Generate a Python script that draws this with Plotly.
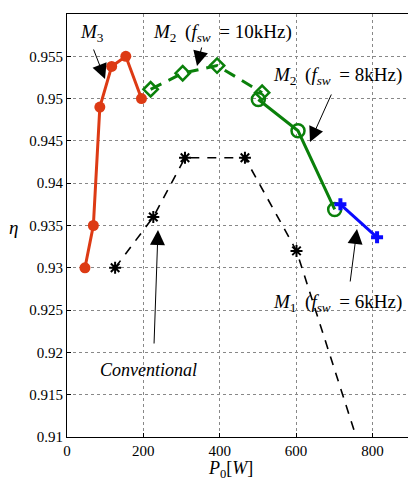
import plotly.graph_objects as go

# Data
m3_x = [47, 69, 86, 117, 154, 195]
m3_y = [0.930, 0.935, 0.949, 0.9538, 0.955, 0.950]

m2_10_x = [219, 303, 393, 511]
m2_10_y = [0.9511, 0.9530, 0.9539, 0.9507]

m2_8_x = [501, 605, 701]
m2_8_y = [0.9499, 0.9462, 0.9369]

m1_x = [716, 812]
m1_y = [0.9375, 0.9336]

conv_x = [126, 226, 309, 466, 601, 800]
conv_y = [0.930, 0.936, 0.943, 0.943, 0.932, 0.904]

y_ticks = [0.91, 0.915, 0.92, 0.925, 0.93, 0.935, 0.94, 0.945, 0.95, 0.955]
y_tick_labels = ["0.91", "0.915", "0.92", "0.925", "0.93", "0.935", "0.94",
                 "0.945", "0.95", "0.955"]
x_ticks = [0, 200, 400, 600, 800]

FONT = "Liberation Serif"
RED = "#dd3a14"
GREEN = "#0a800a"
BLUE = "#0a0aff"

fig = go.Figure()

fig.add_trace(go.Scatter(x=conv_x, y=conv_y, mode="lines",
                         line=dict(color="black", width=1.6, dash="9px,8px"),
                         showlegend=False))
fig.add_trace(go.Scatter(x=conv_x[:-1], y=conv_y[:-1], mode="markers",
                         marker=dict(symbol="asterisk-open", size=10, color="black",
                                     line=dict(width=2, color="black")),
                         showlegend=False))

fig.add_trace(go.Scatter(x=m3_x, y=m3_y, mode="lines+markers",
                         line=dict(color=RED, width=3),
                         marker=dict(symbol="circle", size=11, color=RED),
                         showlegend=False))

fig.add_trace(go.Scatter(x=m2_10_x, y=m2_10_y, mode="lines+markers",
                         line=dict(color=GREEN, width=3, dash="12px,8px"),
                         marker=dict(symbol="diamond-open", size=11, color=GREEN,
                                     line=dict(width=2.5, color=GREEN)),
                         showlegend=False))

fig.add_trace(go.Scatter(x=m2_8_x, y=m2_8_y, mode="lines+markers",
                         line=dict(color=GREEN, width=3),
                         marker=dict(symbol="circle-open", size=13, color=GREEN,
                                     line=dict(width=2.5, color=GREEN)),
                         showlegend=False))

fig.add_trace(go.Scatter(x=m1_x, y=m1_y, mode="lines+markers",
                         line=dict(color=BLUE, width=3),
                         marker=dict(symbol="cross", size=10, color=BLUE),
                         showlegend=False))

W, H = 408, 479
L, R, T, B = 67, 0, 14, 42
PW, PH = W - L - R, H - T - B


def px(xp, yp):
    return (xp - L) / PW, 1 - (yp - T) / PH


def add_arrow(tip, start):
    x, y = px(*tip)
    fig.add_annotation(x=x, y=y, xref="paper", yref="paper",
                       ax=start[0] - tip[0], ay=start[1] - tip[1],
                       text="", showarrow=True, arrowhead=2, arrowsize=3,
                       arrowwidth=1, arrowcolor="black")


def add_text(text, pos, size=19):
    x, y = px(*pos)
    fig.add_annotation(x=x, y=y, xref="paper", yref="paper", text=text,
                       showarrow=False, font=dict(family=FONT, size=size, color="black"),
                       xanchor="center", yanchor="middle")


add_arrow((105, 79), (93, 48))
add_text("<i>M</i><sub>3</sub>", (92, 33))

add_arrow((197, 66), (202, 46))
add_text("<i>M</i><sub>2</sub>\u2009 (<i>f</i><sub><i>sw</i></sub>\u2009 = 10kHz)", (222, 33))

add_arrow((310, 142), (332, 93))
add_text("<i>M</i><sub>2</sub>\u2009 (<i>f</i><sub><i>sw</i></sub>\u2009 = 8kHz)", (337, 76))

add_arrow((357, 229), (350, 283))
add_text("<i>M</i><sub>1</sub>\u2009 (<i>f</i><sub><i>sw</i></sub>\u2009 = 6kHz)", (337, 303))

add_arrow((158, 230), (154, 345))
add_text("<i>Conventional</i>", (148, 370), size=18)

# axis titles
add_text("<i>P</i><sub>0</sub>[<i>W</i>]", (230, 469), size=18)
add_text("<i>η</i>", (13, 228), size=19)

axis_common = dict(showline=True, linecolor="black", linewidth=1.2, mirror=True,
                   ticks="inside", ticklen=4, tickcolor="black",
                   showgrid=True, gridcolor="#888888", griddash="dot", gridwidth=1,
                   zeroline=False, automargin=False,
                   tickfont=dict(family=FONT, size=15, color="black"))

fig.update_xaxes(range=[0, 893], tickvals=x_ticks, **axis_common)
fig.update_yaxes(range=[0.91, 0.96], tickvals=y_ticks, ticktext=y_tick_labels,
                 **axis_common)

fig.update_layout(width=W, height=H, margin=dict(l=L, r=R, t=T, b=B),
                  paper_bgcolor="white", plot_bgcolor="white")

fig.write_html("out.html", config={"displayModeBar": False},
               post_script="document.body.style.margin='0px';"
                           "document.body.style.overflow='hidden';")
